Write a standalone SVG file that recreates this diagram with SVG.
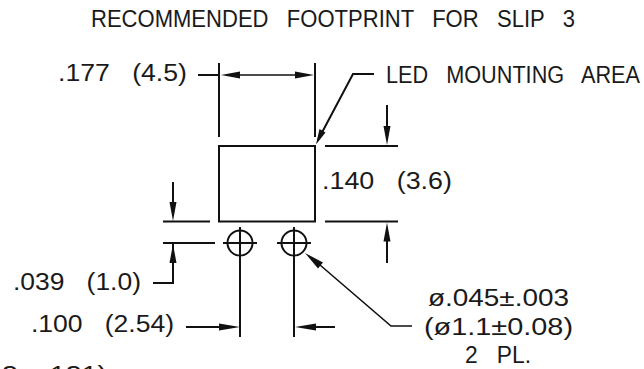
<svg xmlns="http://www.w3.org/2000/svg" width="644" height="369" viewBox="0 0 644 369">
<style>
text{font-family:"Liberation Sans",Arial,sans-serif;font-size:23.5px;fill:#1a1a1a;white-space:pre}
.l{fill:none;stroke:#111;stroke-width:2}
.t{fill:none;stroke:#111;stroke-width:1.6}
.h{fill:#111;stroke:none}
</style>
<rect width="644" height="369" fill="#fff"/>
<g id="title"><text x="91" y="27" textLength="484" lengthAdjust="spacingAndGlyphs">RECOMMENDED   FOOTPRINT   FOR   SLIP   3</text></g>
<g id="footprint-rect"><rect class="l" x="219" y="146" width="96" height="75.500"/></g>
<g id="pad-left"><circle class="l" cx="240" cy="243" r="12.500"/></g>
<g id="pad-right"><circle class="l" cx="294" cy="243" r="12.500"/></g>
<g id="connectors">
<path class="l" d="M198 75H219M219 63V137M315 63V137"/>
<path class="t" d="M235 75H299"/>
<path class="h" d="M221 75L240 71.500V78.500ZM314 75L295 71.500V78.500Z"/>
<path class="l" d="M374 74H353L318 140"/>
<path class="h" d="M316 144.500L319.500 129L325.500 132.500Z"/>
<path class="l" d="M325 146H398M325 221.500H398"/>
<path class="l" d="M387 105V130M387 263V238"/>
<path class="h" d="M387 145L383.500 126H390.500ZM387 222.500L383.500 241.500H390.500Z"/>
<path class="l" d="M163 221.500H210M163 243H215"/>
<path class="l" d="M173 182V205M173 244V283H153"/>
<path class="h" d="M173 221L169.500 202H176.500ZM173 244L169.500 263H176.500Z"/>
<path class="l" d="M223 243H257M277 243H311M240 227V337M294 227V337"/>
<path class="l" d="M186 327H225M335 327H309"/>
<path class="h" d="M240 327L219 323.500V330.500ZM295 327L316 323.500V330.500Z"/>
<path class="t" d="M320 265L391 326H412"/>
<path class="h" d="M305 253L323 262.500L318 268.500Z"/>
</g>
<g id="labels">
<text x="58" y="81" textLength="129" lengthAdjust="spacingAndGlyphs">.177   (4.5)</text>
<text x="386" y="83" textLength="254" lengthAdjust="spacingAndGlyphs">LED   MOUNTING   AREA</text>
<text x="322" y="189" textLength="130" lengthAdjust="spacingAndGlyphs">.140   (3.6)</text>
<text x="13" y="290" textLength="128" lengthAdjust="spacingAndGlyphs">.039   (1.0)</text>
<text x="31" y="332" textLength="143" lengthAdjust="spacingAndGlyphs">.100   (2.54)</text>
<text x="428" y="306" textLength="141" lengthAdjust="spacingAndGlyphs">ø.045±.003</text>
<text x="424" y="335" textLength="149" lengthAdjust="spacingAndGlyphs">(ø1.1±0.08)</text>
<text x="465" y="363" textLength="66" lengthAdjust="spacingAndGlyphs">2   PL.</text>
<text x="2" y="383" textLength="105" lengthAdjust="spacingAndGlyphs">3.   131)</text>
</g>
</svg>
